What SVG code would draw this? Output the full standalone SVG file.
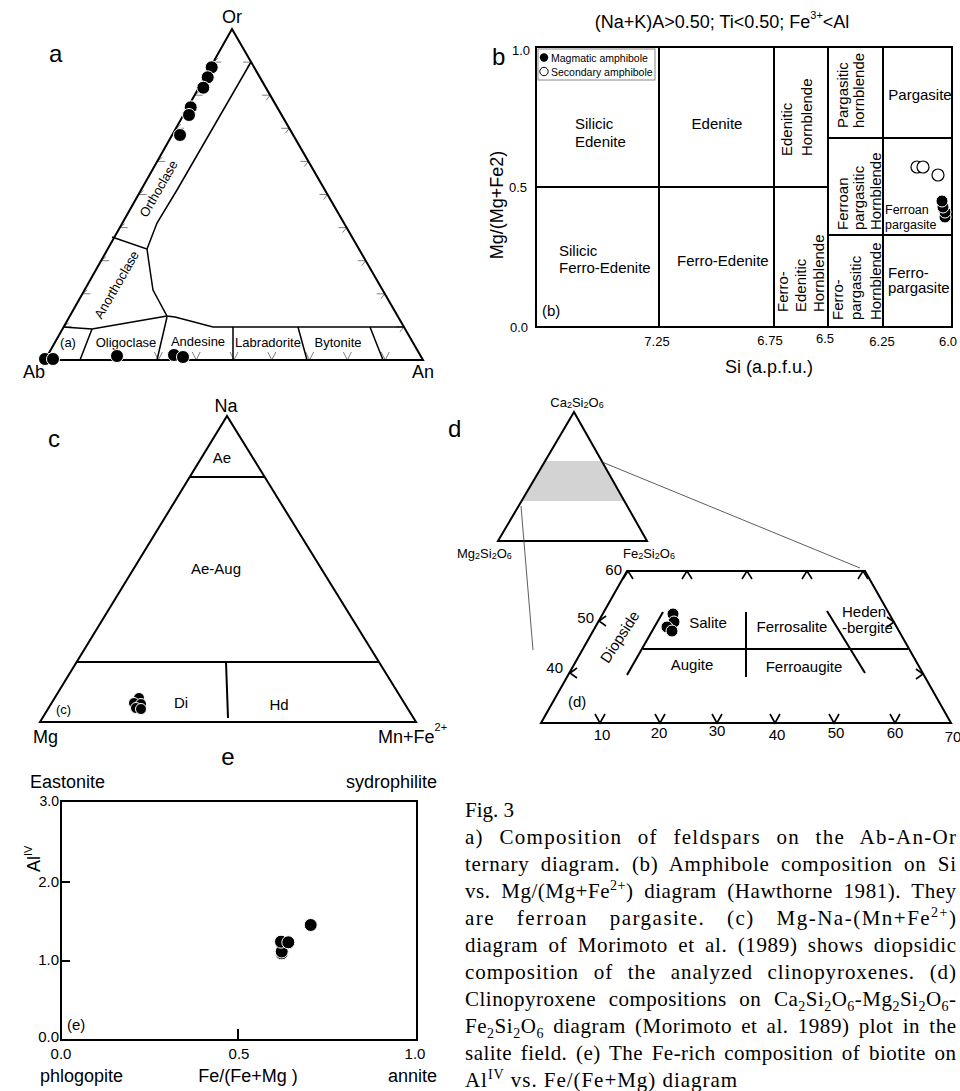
<svg xmlns="http://www.w3.org/2000/svg" xmlns:xlink="http://www.w3.org/1999/xlink" width="960" height="1091" viewBox="0 0 960 1091">
<style>
.ln{stroke:#000;fill:none;stroke-width:2}
.l15{stroke:#000;fill:none;stroke-width:1.5}
.tk{stroke:#808080;fill:none;stroke-width:1}
.dk{stroke:#000;fill:none;stroke-width:1.6}
.thin{stroke:#333;fill:none;stroke-width:0.8}
.dot{fill:#000;stroke:#fff;stroke-width:1}
.od{fill:#fff;stroke:#000;stroke-width:1.2}
.s{font-family:"Liberation Sans",Arial,Helvetica,sans-serif;fill:#000}
.big{font-size:24px}
.ax{font-size:18px}
.lab{font-size:15px}
.sm{font-size:13px}
.cap{font-family:"Liberation Serif","Times New Roman",serif;font-size:21px;fill:#000}
</style>
<defs>
<path id="tL" class="tk" d="M0,0 h8 M0,0 l5,-4"/>
<path id="tR" class="tk" d="M0,0 h-8 M0,0 l-4,5"/>
<path id="tB" class="tk" d="M-4,-8 L0,0 L4,-8"/>
<path id="dU" class="dk" d="M-5,8 L0,0 L5,8"/>
<path id="dD" class="dk" d="M-5,-9 L0,0 L5,-9"/>
<path id="dL" class="dk" d="M7,-5 L0,0 L7,5"/>
<path id="dR" class="dk" d="M-7,-5 L0,0 L-7,5"/>
</defs>
<rect width="960" height="1091" fill="#fff"/>

<!-- Panel a -->
<g id="panel-a">
<text class="s big" x="49" y="62">a</text>
<text class="s ax" x="232" y="23" text-anchor="middle">Or</text>
<text class="s ax" x="23" y="378">Ab</text>
<text class="s ax" x="412" y="378">An</text>
<g id="a-ticks">
<use href="#tL" x="63.7" y="326.9"/><use href="#tL" x="82.4" y="293.8"/><use href="#tL" x="101.1" y="260.7"/>
<use href="#tL" x="119.8" y="227.6"/><use href="#tL" x="138.5" y="194.5"/><use href="#tL" x="157.2" y="161.4"/>
<use href="#tL" x="175.9" y="128.3"/><use href="#tL" x="194.6" y="95.2"/><use href="#tL" x="213.3" y="62.1"/>
<use href="#tR" x="251.1" y="62.1"/><use href="#tR" x="270.2" y="95.2"/><use href="#tR" x="289.3" y="128.3"/>
<use href="#tR" x="308.4" y="161.4"/><use href="#tR" x="327.5" y="194.5"/><use href="#tR" x="346.6" y="227.6"/>
<use href="#tR" x="365.7" y="260.7"/><use href="#tR" x="384.8" y="293.8"/><use href="#tR" x="403.9" y="326.9"/>
<use href="#tB" x="158.4" y="360"/><use href="#tB" x="196.2" y="360"/><use href="#tB" x="234" y="360"/>
<use href="#tB" x="271.8" y="360"/><use href="#tB" x="309.6" y="360"/><use href="#tB" x="347.4" y="360"/>
<use href="#tB" x="385.2" y="360"/>
</g>
<path class="ln" d="M45,360 L423,360 L232,29 Z"/>
<path class="l15" d="M251,62 L177,190 L157,223 L147,249"/>
<path class="l15" d="M112,237 L147,249 L150,270 L153,290 L167,316 L175,317 L213,327 L404,327"/>
<path class="l15" d="M63,327 L92,329 L167,316"/>
<path class="l15" d="M92,329 L80,360 M167,317 L157,360 M233,327 L233,360 M298,327 L307,360 M370,327 L383,360"/>
<text class="s sm" transform="translate(159,189) rotate(-60)" text-anchor="middle" dy="4">Orthoclase</text>
<text class="s sm" transform="translate(117,285) rotate(-60)" text-anchor="middle" dy="4">Anorthoclase</text>
<text class="s sm" x="68" y="347" text-anchor="middle">(a)</text>
<text class="s sm" x="126" y="347" text-anchor="middle">Oligoclase</text>
<text class="s sm" x="198" y="346" text-anchor="middle">Andesine</text>
<text class="s sm" x="268" y="347" text-anchor="middle">Labradorite</text>
<text class="s sm" x="338" y="347" text-anchor="middle">Bytonite</text>
<g id="a-dots">
<circle class="dot" cx="211.7" cy="67.3" r="6.5"/><circle class="dot" cx="207.7" cy="77.3" r="6.5"/>
<circle class="dot" cx="203.3" cy="87.7" r="6.5"/><circle class="dot" cx="190.7" cy="107.3" r="6.5"/>
<circle class="dot" cx="189" cy="115" r="6.5"/><circle class="dot" cx="180" cy="135" r="6.5"/>
<circle class="dot" cx="45" cy="359" r="6.5"/><circle class="dot" cx="53" cy="359" r="6.5"/>
<circle class="dot" cx="117" cy="356" r="6.5"/><circle class="dot" cx="174" cy="355" r="6.5"/>
<circle class="dot" cx="183" cy="357" r="6.5"/>
</g>
</g>

<!-- Panel b -->
<g id="panel-b">
<text class="s big" x="492" y="65">b</text>
<text class="s ax" x="722" y="28" text-anchor="middle">(Na+K)A&gt;0.50; Ti&lt;0.50; Fe<tspan font-size="11" dy="-9">3+</tspan><tspan dy="9">&lt;Al</tspan></text>
<rect class="ln" x="536" y="47" width="416" height="280"/>
<path class="ln" d="M536,187 L828,187 M659,47 L659,327 M774,47 L774,327 M828,47 L828,327 M883,47 L883,327 M828,138 L952,138 M828,235 L952,235"/>
<rect x="538" y="49" width="117" height="31" fill="#fff" stroke="#888" stroke-width="1"/>
<circle cx="544" cy="57.5" r="4.2" fill="#000"/>
<circle cx="544" cy="71.5" r="4.2" fill="#fff" stroke="#000" stroke-width="1"/>
<text class="s" font-size="10.5" x="551" y="61.5">Magmatic amphibole</text>
<text class="s" font-size="10.5" x="551" y="75.5">Secondary amphibole</text>
<text class="s sm" x="530" y="55" text-anchor="end">1.0</text>
<text class="s sm" x="527" y="192" text-anchor="end">0.5</text>
<text class="s sm" x="528" y="332" text-anchor="end">0.0</text>
<text class="s sm" x="657" y="346" text-anchor="middle">7.25</text>
<text class="s sm" x="770" y="345" text-anchor="middle">6.75</text>
<text class="s sm" x="825" y="343" text-anchor="middle">6.5</text>
<text class="s sm" x="882" y="346" text-anchor="middle">6.25</text>
<text class="s sm" x="948" y="346" text-anchor="middle">6.0</text>
<text class="s ax" x="769" y="373" text-anchor="middle">Si (a.p.f.u.)</text>
<text class="s ax" transform="translate(503,205) rotate(-90)" text-anchor="middle">Mg/(Mg+Fe2)</text>
<text class="s lab" x="575" y="129">Silicic</text>
<text class="s lab" x="575" y="147">Edenite</text>
<text class="s lab" x="717" y="129" text-anchor="middle">Edenite</text>
<text class="s lab" transform="translate(792,156) rotate(-90)">Edenitic</text>
<text class="s lab" transform="translate(812,156) rotate(-90)">Hornblende</text>
<text class="s lab" transform="translate(847.5,128) rotate(-90)">Pargasitic</text>
<text class="s lab" transform="translate(864,128) rotate(-90)">hornblende</text>
<text class="s lab" x="920" y="100" text-anchor="middle">Pargasite</text>
<text class="s lab" transform="translate(847.5,230) rotate(-90)">Ferroan</text>
<text class="s lab" transform="translate(864,230) rotate(-90)">pargasitic</text>
<text class="s lab" transform="translate(880.7,230) rotate(-90)">Hornblende</text>
<text class="s" font-size="12.5" x="885" y="214">Ferroan</text>
<text class="s" font-size="12.5" x="885" y="229">pargasite</text>
<text class="s lab" x="559" y="256">Silicic</text>
<text class="s lab" x="559" y="273">Ferro-Edenite</text>
<text class="s lab" x="677" y="266">Ferro-Edenite</text>
<text class="s lab" transform="translate(787.5,312) rotate(-90)">Ferro-</text>
<text class="s lab" transform="translate(805.7,312) rotate(-90)">Edenitic</text>
<text class="s lab" transform="translate(824,312) rotate(-90)">Hornblende</text>
<text class="s lab" transform="translate(842.5,320) rotate(-90)">Ferro-</text>
<text class="s lab" transform="translate(860.7,320) rotate(-90)">pargasitic</text>
<text class="s lab" transform="translate(880.7,320) rotate(-90)">Hornblende</text>
<text class="s lab" x="888" y="278">Ferro-</text>
<text class="s lab" x="888" y="293">pargasite</text>
<text class="s lab" x="542" y="316">(b)</text>
<g id="b-dots">
<circle class="od" cx="917" cy="167" r="6"/><circle class="od" cx="923" cy="167" r="6"/>
<circle class="od" cx="938" cy="175" r="6"/>
<circle class="dot" cx="945" cy="217" r="6"/><circle class="dot" cx="945" cy="212" r="6"/>
<circle class="dot" cx="943" cy="207" r="6"/><circle class="dot" cx="942" cy="201" r="6"/>
</g>
</g>

<!-- Panel c -->
<g id="panel-c">
<text class="s big" x="48" y="447">c</text>
<text class="s ax" x="226" y="412" text-anchor="middle">Na</text>
<path class="ln" d="M40,722 L416,722 L227,416 Z"/>
<path class="ln" d="M190,477 L265,477 M77,662 L379,662 M226,662 L228,718"/>
<text class="s lab" x="222" y="463" text-anchor="middle">Ae</text>
<text class="s lab" x="216" y="574" text-anchor="middle">Ae-Aug</text>
<text class="s lab" x="181" y="708" text-anchor="middle">Di</text>
<text class="s lab" x="279" y="710" text-anchor="middle">Hd</text>
<text class="s sm" x="56" y="714">(c)</text>
<text class="s ax" x="33" y="743">Mg</text>
<text class="s ax" x="378" y="743">Mn+Fe<tspan font-size="11" dy="-12">2+</tspan></text>
<g id="c-dots">
<circle class="dot" cx="139" cy="698" r="5.5"/><circle class="dot" cx="134" cy="703" r="5.5"/>
<circle class="dot" cx="141" cy="704" r="5.5"/><circle class="dot" cx="136" cy="708" r="5.5"/>
<circle class="dot" cx="141" cy="709" r="5.5"/>
</g>
</g>

<!-- Panel d -->
<g id="panel-d">
<text class="s big" x="448" y="437">d</text>
<polygon points="545,461 602,461 624,501 522,501" fill="#d3d3d3"/>
<path class="ln" d="M498,541 L647,541 L574,412 Z"/>
<text class="s" font-size="13" x="577" y="407" text-anchor="middle">Ca<tspan font-size="9" dy="1">2</tspan><tspan dy="-1">Si</tspan><tspan font-size="9" dy="1">2</tspan><tspan dy="-1">O</tspan><tspan font-size="9" dy="1">6</tspan></text>
<text class="s" font-size="13" x="457" y="558">Mg<tspan font-size="9" dy="1">2</tspan><tspan dy="-1">Si</tspan><tspan font-size="9" dy="1">2</tspan><tspan dy="-1">O</tspan><tspan font-size="9" dy="1">6</tspan></text>
<text class="s" font-size="13" x="623" y="558">Fe<tspan font-size="9" dy="1">2</tspan><tspan dy="-1">Si</tspan><tspan font-size="9" dy="1">2</tspan><tspan dy="-1">O</tspan><tspan font-size="9" dy="1">6</tspan></text>
<path class="ln" d="M627,571 L865,571 L951,723 L541,723 Z"/>
<path class="ln" d="M663,612 L627,675 M643,649 L908,649 M746,612 L746,677 M827,611 L865,673"/>
<g id="d-ticks">
<use href="#dU" x="628" y="571"/><use href="#dU" x="687" y="571"/><use href="#dU" x="747" y="571"/>
<use href="#dU" x="807" y="571"/><use href="#dU" x="863" y="571"/>
<use href="#dD" x="600" y="723"/><use href="#dD" x="660" y="723"/><use href="#dD" x="717" y="723"/>
<use href="#dD" x="775" y="723"/><use href="#dD" x="834" y="723"/><use href="#dD" x="895" y="723"/>
<use href="#dL" x="599" y="621"/><use href="#dL" x="570" y="673"/>
<use href="#dR" x="894" y="622"/><use href="#dR" x="923" y="674"/>
</g>
<text class="s lab" x="622" y="575" text-anchor="end">60</text>
<text class="s lab" x="594" y="623" text-anchor="end">50</text>
<text class="s lab" x="563" y="673" text-anchor="end">40</text>
<text class="s lab" x="602" y="740" text-anchor="middle">10</text>
<text class="s lab" x="659" y="738" text-anchor="middle">20</text>
<text class="s lab" x="717" y="736" text-anchor="middle">30</text>
<text class="s lab" x="777" y="740" text-anchor="middle">40</text>
<text class="s lab" x="836" y="738" text-anchor="middle">50</text>
<text class="s lab" x="895" y="738" text-anchor="middle">60</text>
<text class="s lab" x="953" y="742" text-anchor="middle">70</text>
<text class="s lab" transform="translate(620,637) rotate(-57)" text-anchor="middle" dy="5">Diopside</text>
<text class="s lab" x="708" y="628" text-anchor="middle">Salite</text>
<text class="s lab" x="792" y="632" text-anchor="middle">Ferrosalite</text>
<text class="s lab" x="842" y="617">Heden</text>
<text class="s lab" x="842" y="633">-bergite</text>
<text class="s lab" x="692" y="670" text-anchor="middle">Augite</text>
<text class="s lab" x="804" y="672" text-anchor="middle">Ferroaugite</text>
<text class="s lab" x="568" y="707">(d)</text>
<g id="d-dots">
<circle class="dot" cx="673" cy="614" r="6"/><circle class="dot" cx="674" cy="622" r="6"/>
<circle class="dot" cx="667" cy="627" r="6"/><circle class="dot" cx="672" cy="631" r="6"/>
</g>
</g>

<!-- connectors (zoom lines of panel d) -->
<g id="connectors">
<path class="thin" d="M602,462 L860,568"/>
<path class="thin" d="M521,506 L533,650"/>
</g>

<!-- Panel e -->
<g id="panel-e">
<text class="s big" x="228" y="765" text-anchor="middle">e</text>
<text class="s ax" x="30" y="788">Eastonite</text>
<text class="s ax" x="437" y="788" text-anchor="end">sydrophilite</text>
<rect class="ln" x="61" y="801" width="356" height="239"/>
<path class="ln" d="M61,882 h9 M61,961 h9 M238,1040 v-11"/>
<text class="s" font-size="14" x="59" y="806" text-anchor="end">3.0</text>
<text class="s lab" x="59" y="887" text-anchor="end">2.0</text>
<text class="s lab" x="59" y="965" text-anchor="end">1.0</text>
<text class="s lab" x="59" y="1042" text-anchor="end">0.0</text>
<text class="s lab" x="61" y="1059" text-anchor="middle">0.0</text>
<text class="s lab" x="239" y="1059" text-anchor="middle">0.5</text>
<text class="s lab" x="415" y="1059" text-anchor="middle">1.0</text>
<text class="s ax" x="40" y="1082">phlogopite</text>
<text class="s ax" x="248" y="1082" text-anchor="middle">Fe/(Fe+Mg )</text>
<text class="s ax" x="437" y="1082" text-anchor="end">annite</text>
<text class="s lab" x="67" y="1030">(e)</text>
<text class="s ax" transform="translate(40,872) rotate(-90)">Al<tspan font-size="11" dy="-8">IV</tspan></text>
<g id="e-dots">
<circle class="dot" cx="281.7" cy="953.3" r="6.5"/><circle class="dot" cx="281.7" cy="951.5" r="6.5"/>
<circle class="dot" cx="281" cy="941.7" r="6.5"/><circle class="dot" cx="288.3" cy="942.3" r="6.5"/>
<circle class="dot" cx="310.7" cy="925" r="6.5"/>
</g>
</g>

<!-- Caption -->
<g id="caption">
<text class="cap" x="465" y="817">Fig. 3</text>
<text class="cap" x="465" y="844" word-spacing="9" textLength="491" lengthAdjust="spacing">a) Composition of feldspars on the Ab-An-Or</text>
<text class="cap" x="465" y="871" word-spacing="5.4" textLength="491" lengthAdjust="spacing">ternary diagram. (b) Amphibole composition on Si</text>
<text class="cap" x="465" y="898" word-spacing="4.9" textLength="491" lengthAdjust="spacing">vs. Mg/(Mg+Fe<tspan font-size="14" dy="-8">2+</tspan><tspan dy="8">) diagram (Hawthorne 1981). They</tspan></text>
<text class="cap" x="465" y="925" word-spacing="15" textLength="491" lengthAdjust="spacing">are ferroan pargasite. (c) Mg-Na-(Mn+Fe<tspan font-size="14" dy="-8">2+</tspan><tspan dy="8">)</tspan></text>
<text class="cap" x="465" y="952" word-spacing="4.4" textLength="491" lengthAdjust="spacing">diagram of Morimoto et al. (1989) shows diopsidic</text>
<text class="cap" x="465" y="979" word-spacing="8.5" textLength="491" lengthAdjust="spacing">composition of the analyzed clinopyroxenes. (d)</text>
<text class="cap" x="465" y="1006" word-spacing="7" textLength="491" lengthAdjust="spacing">Clinopyroxene compositions on Ca<tspan font-size="14" dy="5">2</tspan><tspan dy="-5">Si</tspan><tspan font-size="14" dy="5">2</tspan><tspan dy="-5">O</tspan><tspan font-size="14" dy="5">6</tspan><tspan dy="-5">-Mg</tspan><tspan font-size="14" dy="5">2</tspan><tspan dy="-5">Si</tspan><tspan font-size="14" dy="5">2</tspan><tspan dy="-5">O</tspan><tspan font-size="14" dy="5">6</tspan><tspan dy="-5">-</tspan></text>
<text class="cap" x="465" y="1033" word-spacing="3.4" textLength="491" lengthAdjust="spacing">Fe<tspan font-size="14" dy="5">2</tspan><tspan dy="-5">Si</tspan><tspan font-size="14" dy="5">2</tspan><tspan dy="-5">O</tspan><tspan font-size="14" dy="5">6</tspan><tspan dy="-5"> diagram (Morimoto et al. 1989) plot in the</tspan></text>
<text class="cap" x="465" y="1060" word-spacing="3" textLength="491" lengthAdjust="spacing">salite field. (e) The Fe-rich composition of biotite on</text>
<text class="cap" x="465" y="1087" textLength="272" lengthAdjust="spacing">Al<tspan font-size="14" dy="-8">IV</tspan><tspan dy="8"> vs. Fe/(Fe+Mg) diagram</tspan></text>
</g>
</svg>
